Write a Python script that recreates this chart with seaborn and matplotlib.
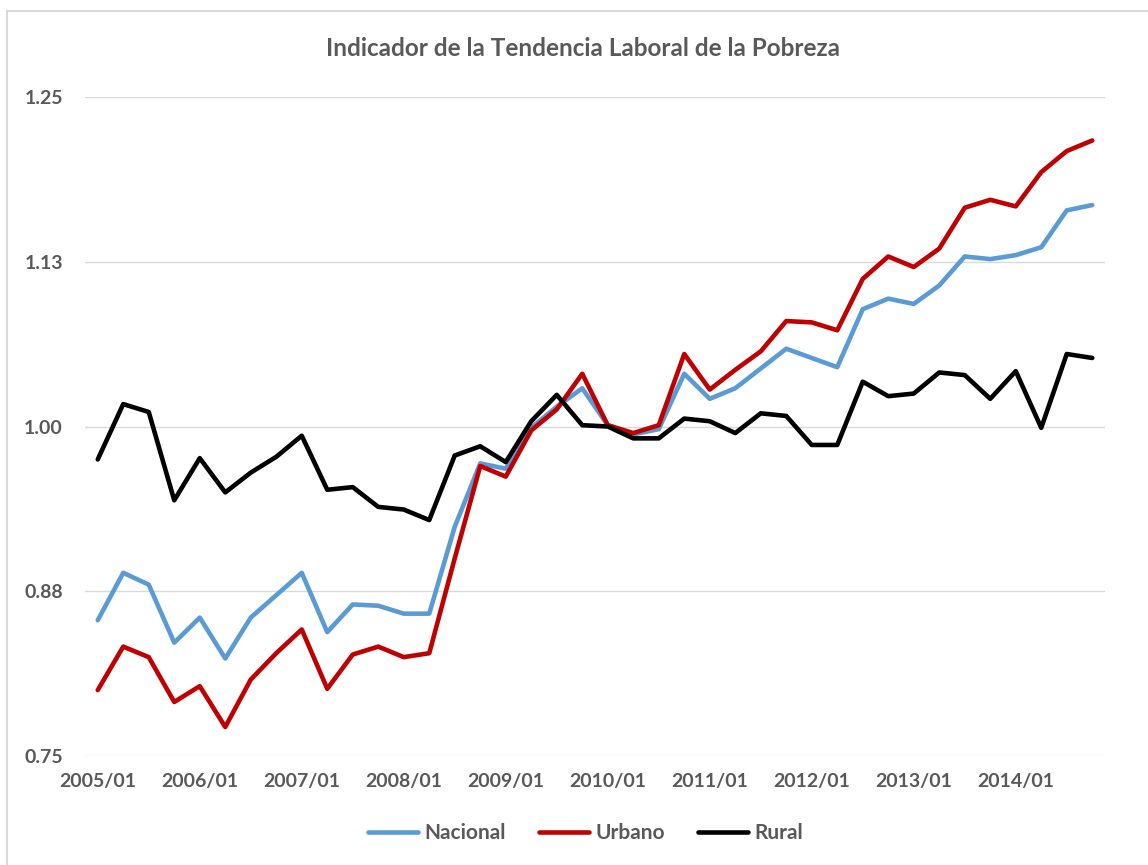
import matplotlib
matplotlib.use("Agg")
import matplotlib.pyplot as plt
import seaborn as sns
import pandas as pd
from matplotlib.lines import Line2D

# ---- data (quarterly 2005/01 .. 2014/04) ----
periods = [f"{y}/{q:02d}" for y in range(2005, 2015) for q in range(1, 5)]
nacional = [0.853, 0.889, 0.880, 0.836, 0.855, 0.824, 0.855, 0.872, 0.889, 0.844,
            0.865, 0.864, 0.858, 0.858, 0.924, 0.972, 0.968, 0.999, 1.015, 1.029,
            1.001, 0.994, 0.998, 1.040, 1.021, 1.029, 1.044, 1.059, 1.052, 1.045,
            1.089, 1.097, 1.093, 1.107, 1.129, 1.127, 1.130, 1.136, 1.164, 1.168]
urbano = [0.800, 0.833, 0.825, 0.791, 0.803, 0.772, 0.808, 0.828, 0.846, 0.801,
          0.827, 0.833, 0.825, 0.828, 0.900, 0.970, 0.962, 0.997, 1.013, 1.040,
          1.001, 0.995, 1.001, 1.055, 1.028, 1.043, 1.057, 1.080, 1.079, 1.073,
          1.112, 1.129, 1.121, 1.135, 1.166, 1.172, 1.167, 1.193, 1.209, 1.217]
rural = [0.975, 1.017, 1.011, 0.944, 0.976, 0.950, 0.965, 0.977, 0.993, 0.952,
         0.954, 0.939, 0.937, 0.929, 0.978, 0.985, 0.973, 1.004, 1.024, 1.001,
         1.000, 0.991, 0.991, 1.006, 1.004, 0.995, 1.010, 1.008, 0.986, 0.986,
         1.034, 1.023, 1.025, 1.041, 1.039, 1.021, 1.042, 0.999, 1.055, 1.052]
series_names = ["Nacional", "Urbano", "Rural"]
series_colors = ["#5B9BD5", "#C00000", "#000000"]
ytick_values = [0.75, 0.875, 1.0, 1.125, 1.25]
ytick_labels = ["0.75", "0.88", "1.00", "1.13", "1.25"]
title = "Indicador de la Tendencia Laboral de la Pobreza"

df = pd.DataFrame({
    "idx": list(range(len(periods))) * 3,
    "valor": nacional + urbano + rural,
    "serie": [s for s in series_names for _ in periods],
})

sns.set_theme(style="white")
plt.rcParams["font.family"] = ["Lato", "DejaVu Sans"]
text_color = "#595959"

fig = plt.figure(figsize=(11.48, 8.65), dpi=100)
ax = fig.add_axes([85 / 1148, 1 - 756 / 865, (1105 - 85) / 1148, (756 - 97) / 865])

sns.lineplot(data=df, x="idx", y="valor", hue="serie", hue_order=series_names,
             palette=series_colors, linewidth=3.3, ax=ax, legend=False)

ax.set_xlim(-0.5, len(periods) - 0.5)
ax.set_ylim(0.75, 1.25)
ax.set_yticks(ytick_values)
ax.set_yticklabels(ytick_labels)
xt = list(range(0, len(periods), 4))
ax.set_xticks(xt)
ax.set_xticklabels([periods[i] for i in xt])
ax.set_xlabel("")
ax.set_ylabel("")
ax.grid(axis="y", color="#D9D9D9", linewidth=1.0)
ax.grid(axis="x", visible=False)
ax.set_axisbelow(True)
for s in ax.spines.values():
    s.set_visible(False)
ax.tick_params(axis="both", length=0, labelsize=14, labelcolor=text_color)
ax.tick_params(axis="y", pad=16)
ax.tick_params(axis="x", pad=12)
for lab in ax.get_xticklabels() + ax.get_yticklabels():
    lab.set_fontweight("bold")

fig.text(0.508, 1 - 49 / 865, title, ha="center", va="center",
         fontsize=17.5, color=text_color, fontweight="bold")

handles = [Line2D([0], [0], color=c, lw=3.3) for c in series_colors]
leg = fig.legend(handles, series_names, loc="center", ncol=3,
                 bbox_to_anchor=(0.51, 1 - 833 / 865), frameon=False,
                 fontsize=15, handlelength=2.4, handletextpad=0.3,
                 columnspacing=1.6)
for t in leg.get_texts():
    t.set_color(text_color)
    t.set_fontweight("bold")

# chart-area border (partially visible: left and top edges)
fig.add_artist(Line2D([7 / 1148, 7 / 1148], [0, 1 - 11 / 865],
                      transform=fig.transFigure, color="#D9D9D9", lw=1.5))
fig.add_artist(Line2D([7 / 1148, 1], [1 - 11 / 865, 1 - 11 / 865],
                      transform=fig.transFigure, color="#D9D9D9", lw=1.5))

fig.savefig("out.png", dpi=100, facecolor="white")
